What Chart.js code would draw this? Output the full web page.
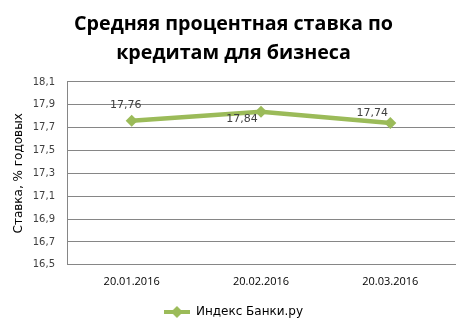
<!DOCTYPE html>
<html>
<head>
<meta charset="utf-8">
<script src="https://cdn.jsdelivr.net/npm/chart.js@4"></script>
<style>
  html, body { margin: 0; padding: 0; background: #fff; }
  #wrap { width: 463px; height: 330px; }
</style>
</head>
<body>
<div id="wrap"><canvas id="myChart" width="463" height="330"></canvas></div>
<script>
// datos
const dates = ["20.01.2016", "20.02.2016", "20.03.2016"];
const rates = [17.76, 17.84, 17.74];
const seriesName = "Индекс Банки.ру";
const titleLines = ["Средняя процентная ставка по", "кредитам для бизнеса"];
const yTitle = "Ставка, % годовых";

const green = "#9bbb59";
const gridGray = "#868686";

// marcador de la leyenda: linea + rombo
const legendMark = document.createElement("canvas");
legendMark.width = 26;
legendMark.height = 12;
(function () {
  const c = legendMark.getContext("2d");
  c.strokeStyle = green;
  c.lineWidth = 4;
  c.beginPath();
  c.moveTo(0, 6);
  c.lineTo(26, 6);
  c.stroke();
  c.fillStyle = green;
  c.beginPath();
  c.moveTo(13 - 6, 6);
  c.lineTo(13, 0);
  c.lineTo(13 + 6, 6);
  c.lineTo(13, 12);
  c.closePath();
  c.fill();
})();

const comma = v => v.toFixed(2).replace(".", ",");

// etiquetas de valores (arriba / abajo como en Excel)
const valueLabels = {
  id: "valueLabels",
  afterDatasetsDraw(chart) {
    const ctx = chart.ctx;
    const meta = chart.getDatasetMeta(0);
    const offs = [[-6, -16], [-19, 8], [-18, -10]];
    ctx.save();
    ctx.font = "11px 'DejaVu Sans'";
    ctx.fillStyle = "#404040";
    ctx.textAlign = "center";
    ctx.textBaseline = "middle";
    meta.data.forEach((pt, i) => {
      ctx.fillText(comma(rates[i]), pt.x + offs[i][0], pt.y + offs[i][1]);
    });
    ctx.restore();
  }
};

const ctx = document.getElementById("myChart").getContext("2d");
const myChart = new Chart(ctx, {
  type: "line",
  data: {
    labels: dates,
    datasets: [{
      label: seriesName,
      data: rates,
      borderColor: green,
      backgroundColor: green,
      borderWidth: 4.5,
      pointStyle: "rectRot",
      pointRadius: 6,
      pointBorderWidth: 0,
      tension: 0
    }]
  },
  options: {
    responsive: false,
    animation: false,
    layout: { padding: { left: 12, right: 8, top: 6, bottom: 2 } },
    plugins: {
      title: {
        display: true,
        text: titleLines,
        color: "#000",
        font: { family: "'Open Sans'", size: 19.7, weight: "bold", lineHeight: 1.47 },
        padding: { top: 4, bottom: 14 }
      },
      legend: {
        position: "bottom",
        labels: {
          usePointStyle: true,
          pointStyleWidth: 26,
          color: "#404040",
          font: { family: "'DejaVu Sans'", size: 12 },
          padding: 8,
          generateLabels: () => [{
            text: seriesName,
            pointStyle: legendMark,
            fillStyle: green,
            strokeStyle: green,
            lineWidth: 0,
            datasetIndex: 0
          }]
        }
      },
      tooltip: { enabled: false }
    },
    scales: {
      x: {
        offset: true,
        grid: { display: false, drawTicks: false },
        border: { display: true, color: gridGray, width: 1 },
        ticks: {
          color: "#000",
          font: { family: "'Open Sans'", size: 11 },
          padding: 10,
          maxRotation: 0
        }
      },
      y: {
        min: 16.5,
        max: 18.1,
        grid: { color: gridGray, drawTicks: false },
        border: { display: true, color: gridGray, width: 1 },
        afterFit: scale => { scale.width = 55; },
        ticks: {
          stepSize: 0.2,
          color: "#404040",
          font: { family: "'DejaVu Sans'", size: 10 },
          padding: 12,
          callback: v => v.toFixed(1).replace(".", ",")
        },
        title: {
          display: true,
          text: yTitle,
          color: "#000",
          font: { family: "'DejaVu Sans'", size: 12 },
          padding: { top: 0, bottom: 4 }
        }
      }
    }
  },
  plugins: [valueLabels]
});
</script>
</body>
</html>
